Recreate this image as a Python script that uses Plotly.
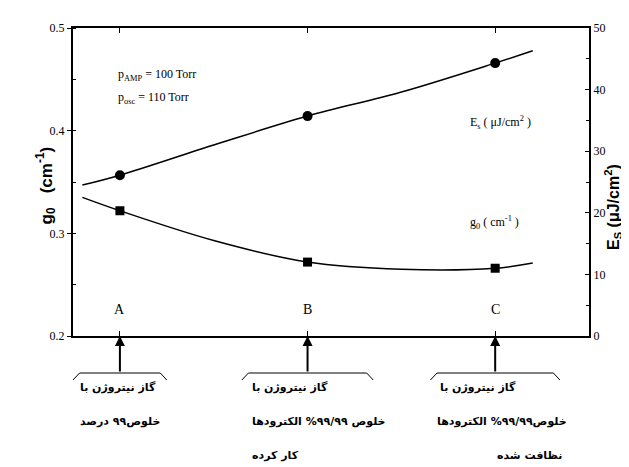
import plotly.graph_objects as go
from plotly.subplots import make_subplots

# --- data ---
categories = ["A", "B", "C"]
cat_pos = [1, 2, 3]
g0_points = [0.322, 0.272, 0.266]
es_points = [26.1, 35.7, 44.3]

fit_x = [0.8, 1.0, 1.5, 2.0, 2.5, 3.0, 3.2]
g0_fit = [0.335, 0.322, 0.293, 0.272, 0.265, 0.266, 0.271]
es_fit = [24.5, 26.1, 31.0, 35.7, 39.6, 44.3, 46.3]

notes = [
    ["گاز نیتروژن با", "خلوص۹۹ درصد"],
    ["گاز نیتروژن با", "خلوص ۹۹/۹۹% الکترودها", "کار کرده"],
    ["گاز نیتروژن با", "خلوص۹۹/۹۹% الکترودها", "نظافت شده"],
]

# --- layout geometry (pixels) ---
W, H = 629, 467
L, R, T, B = 65, 48, 20, 139
X_RANGE = [0.75, 3.5]
PLOT_H = H - T - B
PLOT_W = W - L - R


def px_x(px):
    return X_RANGE[0] + (px - L) / PLOT_W * (X_RANGE[1] - X_RANGE[0])


def px_paper(px):
    return (px - L) / PLOT_W


def py_paper(py):
    return (H - B - py) / PLOT_H


BLACK = "#000000"
SERIF = "Liberation Serif"
SANS = "Liberation Sans"
FA = "DejaVu Sans"

fig = make_subplots(specs=[[{"secondary_y": True}]])

fig.add_trace(
    go.Scatter(x=fit_x, y=g0_fit, mode="lines", line={"color": BLACK, "width": 1.5, "shape": "spline"},
               showlegend=False),
    secondary_y=False,
)
fig.add_trace(
    go.Scatter(x=cat_pos, y=g0_points, mode="markers",
               marker={"symbol": "square", "size": 9, "color": BLACK}, showlegend=False),
    secondary_y=False,
)
fig.add_trace(
    go.Scatter(x=fit_x, y=es_fit, mode="lines", line={"color": BLACK, "width": 1.5, "shape": "spline"},
               showlegend=False),
    secondary_y=True,
)
fig.add_trace(
    go.Scatter(x=cat_pos, y=es_points, mode="markers",
               marker={"symbol": "circle", "size": 10, "color": BLACK}, showlegend=False),
    secondary_y=True,
)

annotations = []

# category letters inside the plot, arrows from below
for c, xp in zip(categories, cat_pos):
    annotations.append(dict(x=xp, y=py_paper(311), xref="x", yref="paper", text=c, showarrow=False,
                            font={"family": SERIF, "size": 14, "color": BLACK}))
    annotations.append(dict(x=xp, y=0, xref="x", yref="paper", text="", showarrow=True,
                            ax=0, ay=37, arrowhead=2, arrowsize=1, arrowwidth=2, arrowcolor=BLACK))

# bracket shapes under each arrow
bracket_half = [0.25, 0.35, 0.345]
shapes = []
y_top, y_bot = py_paper(365), py_paper(372)
for xp, hw in zip(cat_pos, bracket_half):
    x0, x1 = xp - hw, xp + hw
    d = 0.035
    shapes.append(dict(
        type="path", xref="x", yref="paper",
        path=f"M {x0},{y_bot} L {x0 + d},{y_top} L {x1 - d},{y_top} L {x1},{y_bot}",
        line={"color": BLACK, "width": 1},
    ))

# Persian notes, one annotation per line
note_left = [
    [70, 70],
    [242, 242, 242],
    [430, 427, 487],
]
line_y = [388, 422, 456]
for lines, lefts in zip(notes, note_left):
    for i, (txt, lx) in enumerate(zip(lines, lefts)):
        annotations.append(dict(x=px_x(lx), y=py_paper(line_y[i]), xref="x", yref="paper",
                                text=f"<b>{txt}</b>", showarrow=False, xanchor="left",
                                font={"family": FA, "size": 11, "color": BLACK}))

# pressure labels and curve labels
annotations += [
    dict(x=px_x(108), y=py_paper(57), xref="x", yref="paper", xanchor="left", showarrow=False,
         text="p<sub>AMP</sub> = 100 Torr", font={"family": SERIF, "size": 12, "color": BLACK}),
    dict(x=px_x(108), y=py_paper(80), xref="x", yref="paper", xanchor="left", showarrow=False,
         text="p<sub>osc</sub> = 110 Torr", font={"family": SERIF, "size": 12, "color": BLACK}),
    dict(x=px_x(460), y=py_paper(104), xref="x", yref="paper", xanchor="left", showarrow=False,
         text="E<sub>s</sub> ( μJ/cm<sup>2</sup> )", font={"family": SERIF, "size": 12, "color": BLACK}),
    dict(x=px_x(460), y=py_paper(214), xref="x", yref="paper", xanchor="left", showarrow=False,
         text="g<sub>0</sub> ( cm<sup>-1</sup> )", font={"family": SERIF, "size": 12, "color": BLACK}),
]

# axis titles placed as rotated annotations
annotations += [
    dict(x=px_paper(23), y=py_paper(178), xref="paper", yref="paper", textangle=-90, showarrow=False,
         text="<b>g<sub>0</sub>   (cm<sup>-1</sup>)</b>", font={"family": SANS, "size": 17, "color": BLACK}),
    dict(x=px_paper(618), y=py_paper(199), xref="paper", yref="paper", textangle=-90, showarrow=False,
         text="<b>E<sub>S</sub> (μJ/cm<sup>2</sup>)</b>", font={"family": SANS, "size": 16, "color": BLACK}),
]

fig.update_layout(
    width=W,
    height=H,
    margin={"l": L, "r": R, "t": T, "b": B},
    paper_bgcolor="white",
    plot_bgcolor="white",
    showlegend=False,
    annotations=annotations,
    shapes=shapes,
)

fig.update_xaxes(
    domain=[0, 1],
    range=X_RANGE,
    showgrid=False,
    zeroline=False,
    showline=True,
    linecolor=BLACK,
    linewidth=2,
    mirror="ticks",
    ticks="inside",
    ticklen=5,
    tickcolor=BLACK,
    tickvals=cat_pos,
    showticklabels=False,
)

fig.update_yaxes(
    range=[0.2, 0.5],
    dtick=0.1,
    tickformat=".1f",
    showgrid=False,
    zeroline=False,
    showline=True,
    linecolor=BLACK,
    linewidth=2,
    ticks="outside",
    ticklen=4,
    tickcolor=BLACK,
    minor={"dtick": 0.05, "ticks": "inside", "ticklen": 3, "tickcolor": BLACK},
    tickfont={"family": SERIF, "size": 12, "color": BLACK},
    secondary_y=False,
)
fig.update_yaxes(
    range=[0, 50],
    dtick=10,
    showgrid=False,
    zeroline=False,
    showline=True,
    linecolor=BLACK,
    linewidth=2,
    ticks="inside",
    ticklen=4,
    tickcolor=BLACK,
    minor={"dtick": 5, "ticks": "inside", "ticklen": 3, "tickcolor": BLACK},
    tickfont={"family": SERIF, "size": 12, "color": BLACK},
    secondary_y=True,
)

fig.write_html("out.html")
